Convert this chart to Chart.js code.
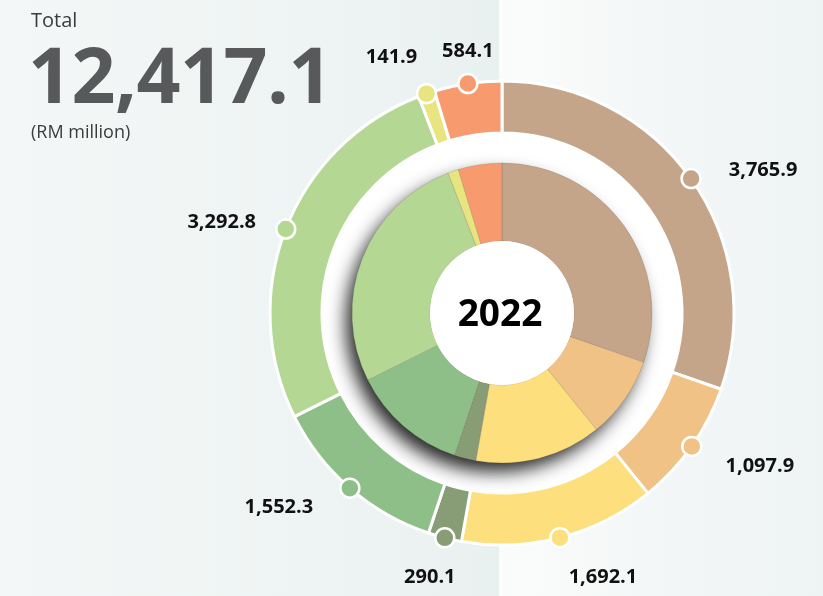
<!DOCTYPE html>
<html>
<head>
<meta charset="utf-8">
<script src="https://cdn.jsdelivr.net/npm/chart.js@4.4.0/dist/chart.umd.min.js"></script>
<style>
  html, body { margin: 0; padding: 0; }
  body {
    width: 823px; height: 596px; overflow: hidden; position: relative;
    background: linear-gradient(90deg, #fbfcfc 0px, #fbfcfc 500px, #f4f7f7 650px, #eef3f3 823px);
    font-family: "Open Sans", "Noto Sans", sans-serif;
  }
  #leftPanel {
    position: absolute; left: 0; top: 0; width: 499px; height: 596px;
    background: linear-gradient(90deg, #f4f7f7 0%, #eef4f3 60%, #e9f1f0 100%);
  }
  #chart { position: absolute; left: 0; top: 0; }
  .title { position: absolute; left: 31px; color: #3c3c3c; }
  #lblTotal { top: 6px; font-size: 20px; }
  #lblValue { top: 21px; left: 28px; font-size: 77px; font-weight: 700; color: #58595b; letter-spacing: -0.5px; }
  #lblUnit { top: 119px; font-size: 18px; }
</style>
</head>
<body>
<div id="leftPanel"></div>
<canvas id="chart" width="823" height="596"></canvas>
<div class="title" id="lblTotal">Total</div>
<div class="title" id="lblValue">12,417.1</div>
<div class="title" id="lblUnit">(RM million)</div>
<script>
  // Revenue breakdown 2022 (RM million)
  const segments = ['A', 'B', 'C', 'D', 'E', 'F', 'G', 'H'];
  const values = [3765.9, 1097.9, 1692.1, 290.1, 1552.3, 3292.8, 141.9, 584.1];
  const colors = ['#c5a58a', '#f0c286', '#fddf7e', '#889d75', '#8fbf88', '#b4d894', '#e8e47f', '#f79b6f'];
  const year = '2022';

  // label nudges from each dot (px)
  const labelOffsets = [[72, -8], [68, 20], [43, 40], [-15, 39], [-71, 19], [-64, -7], [-35, -36], [0, -32]];

  const fmt = v => v.toLocaleString('en-US', { minimumFractionDigits: 1, maximumFractionDigits: 1 });

  const ringPlugin = {
    id: 'ringPlugin',
    beforeDatasetsDraw(chart) {
      const ctx = chart.ctx;
      const outer = chart.getDatasetMeta(0).controller;
      const inner = chart.getDatasetMeta(2).controller;
      const arc = chart.getDatasetMeta(0).data[0];
      const cx = arc.x, cy = arc.y;
      ctx.save();
      // white gap ring
      ctx.beginPath();
      ctx.arc(cx, cy, outer.innerRadius + 1, 0, Math.PI * 2);
      ctx.fillStyle = '#ffffff';
      ctx.fill();
      // soft shadow under inner pie
      ctx.beginPath();
      ctx.arc(cx, cy, inner.outerRadius - 1, 0, Math.PI * 2);
      ctx.shadowColor = 'rgba(0,0,0,0.85)';
      ctx.shadowBlur = 18;
      ctx.shadowOffsetX = -7;
      ctx.shadowOffsetY = 10;
      ctx.fillStyle = '#ffffff';
      ctx.fill();
      ctx.restore();
    },
    afterDatasetsDraw(chart) {
      const ctx = chart.ctx;
      const meta = chart.getDatasetMeta(0);
      const inner = chart.getDatasetMeta(2).controller;
      ctx.save();
      // white centre disc and year
      const c = meta.data[0];
      ctx.beginPath();
      ctx.arc(c.x, c.y, inner.innerRadius, 0, Math.PI * 2);
      ctx.fillStyle = '#ffffff';
      ctx.fill();
      ctx.fillStyle = '#000';
      ctx.font = 'bold 37px "Open Sans", sans-serif';
      ctx.textAlign = 'center';
      ctx.textBaseline = 'middle';
      ctx.fillText(year, c.x - 2, c.y + 2);
      // dots and value labels
      meta.data.forEach((a, i) => {
        const mid = (a.startAngle + a.endAngle) / 2;
        const dx = a.x + a.outerRadius * Math.cos(mid);
        const dy = a.y + a.outerRadius * Math.sin(mid);
        ctx.beginPath();
        ctx.arc(dx, dy, 9.5, 0, Math.PI * 2);
        ctx.fillStyle = colors[i];
        ctx.fill();
        ctx.lineWidth = 2.5;
        ctx.strokeStyle = '#ffffff';
        ctx.stroke();
        ctx.fillStyle = '#111';
        ctx.font = 'bold 20px "Open Sans", sans-serif';
        ctx.fillText(fmt(values[i]), dx + labelOffsets[i][0], dy + labelOffsets[i][1]);
      });
      ctx.restore();
    }
  };

  new Chart(document.getElementById('chart'), {
    type: 'doughnut',
    data: {
      labels: segments,
      datasets: [{
        data: values,
        backgroundColor: colors,
        borderColor: '#ffffff',
        borderWidth: 3,
        weight: 52
      }, {
        data: [1],
        backgroundColor: 'rgba(0,0,0,0)',
        borderWidth: 0,
        weight: 30
      }, {
        data: values,
        backgroundColor: colors,
        borderColor: 'rgba(90,70,50,0.18)',
        borderWidth: 1,
        weight: 78
      }]
    },
    options: {
      responsive: false,
      animation: false,
      events: [],
      cutout: 72,
      hoverOffset: 0,
      layout: { padding: { left: 268.5, top: 79.5, right: 87.5, bottom: 49.5 } },
      plugins: {
        legend: { display: false },
        tooltip: { enabled: false }
      }
    },
    plugins: [ringPlugin]
  });
</script>
</body>
</html>
